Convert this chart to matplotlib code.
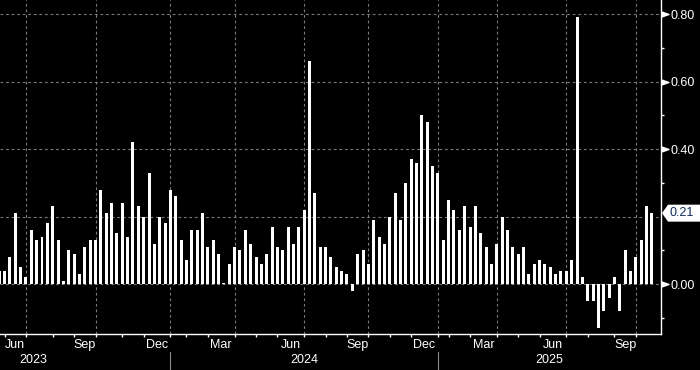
import numpy as np
import matplotlib
matplotlib.use("Agg")
import matplotlib.pyplot as plt
from matplotlib.patches import Polygon
from matplotlib.path import Path
from matplotlib.transforms import blended_transform_factory, IdentityTransform

plt.rcParams["font.family"] = ["Liberation Sans", "DejaVu Sans"]

# weekly values, oldest first
values = [
    0.04, 0.04, 0.08, 0.21, 0.05, 0.02, 0.16, 0.13, 0.14, 0.18,
    0.23, 0.13, 0.01, 0.10, 0.09, 0.03, 0.11, 0.13, 0.13, 0.28,
    0.21, 0.24, 0.15, 0.24, 0.14, 0.42, 0.23, 0.20, 0.33, 0.12,
    0.20, 0.18, 0.28, 0.26, 0.13, 0.07, 0.16, 0.16, 0.21, 0.11,
    0.13, 0.09, 0.003, 0.06, 0.11, 0.10, 0.16, 0.12, 0.08, 0.06,
    0.09, 0.17, 0.11, 0.10, 0.17, 0.12, 0.17, 0.22, 0.66, 0.27,
    0.11, 0.11, 0.08, 0.05, 0.04, 0.03, -0.02, 0.09, 0.10, 0.06,
    0.19, 0.14, 0.12, 0.20, 0.27, 0.19, 0.30, 0.37, 0.36, 0.50,
    0.48, 0.35, 0.33, 0.13, 0.25, 0.22, 0.16, 0.23, 0.17, 0.23,
    0.15, 0.11, 0.06, 0.12, 0.20, 0.16, 0.11, 0.09, 0.11, 0.03,
    0.06, 0.07, 0.06, 0.05, 0.03, 0.04, 0.04, 0.07, 0.79, 0.02,
    -0.05, -0.05, -0.13, -0.08, -0.04, 0.02, -0.08, 0.10, 0.04, 0.08,
    0.13, 0.23, 0.21,
]

# month-end bar index (May 2023 .. Aug 2025), quarter ends get a grid line
month_ends = [1, 5, 10, 14, 18, 23, 27, 32, 35, 39, 44, 48, 52, 57, 61, 65,
              69, 73, 77, 82, 84, 88, 93, 97, 101, 106, 110, 115, 119]
quarter_ends = [5, 18, 32, 44, 57, 69, 82, 93, 106, 119]
month_labels = ["Jun", "Sep", "Dec", "Mar", "Jun", "Sep", "Dec", "Mar", "Jun", "Sep"]
years = ["2023", "2024", "2025"]
year_pos = [6.3, 57, 102.8]
year_breaks = [32, 82]

y_ticks = [0.0, 0.2, 0.4, 0.6, 0.8]
y_minor = [-0.1, 0.1, 0.3, 0.5, 0.7]

fig = plt.figure(figsize=(7, 3.7), dpi=100, facecolor="black")
ax = fig.add_axes([0, 36 / 370, 660.5 / 700, 334 / 370])
ax.set_facecolor("black")

x = np.arange(len(values))
ax.bar(x, values, width=0.56, color="white", zorder=3)
ax.set_xlim(0.15, 123.6)
ax.set_ylim(-0.148, 0.8415)

for s in ["top", "left"]:
    ax.spines[s].set_visible(False)
for s in ["right", "bottom"]:
    ax.spines[s].set_color("white")
    ax.spines[s].set_linewidth(1.0)

grid_style = dict(color="#7a7a7a", linestyle=(0, (2.5, 2.5)), linewidth=0.8)
for q in quarter_ends:
    ax.axvline(q, zorder=1, **grid_style)
for t in y_ticks:
    ax.axhline(t, zorder=1, **grid_style)

last = values[-1]

# y axis on the right; the label under the last-value tag is hidden
ax.yaxis.tick_right()
ax.set_yticks(y_ticks)
ax.set_yticklabels(["" if abs(t - last) < 0.04 else f"{t:.2f}" for t in y_ticks])
ax.set_yticks(y_minor, minor=True)
ax.tick_params(axis="y", which="major", length=0, pad=7, labelsize=9, labelcolor="white")
ax.tick_params(axis="y", which="minor", length=2.5, width=1, color="white")

tri = Path([(-1, -0.7), (1, 0), (-1, 0.7), (-1, -0.7)],
           [Path.MOVETO, Path.LINETO, Path.LINETO, Path.CLOSEPOLY])
yt = blended_transform_factory(ax.transAxes, ax.transData)
arrow_ticks = [t for t in y_ticks if abs(t - last) >= 0.04]
ax.plot([1 + 4.2 / 660.5] * len(arrow_ticks), arrow_ticks, linestyle="none", marker=tri,
        markersize=5, color="white", transform=yt, clip_on=False)

# x axis: monthly ticks, quarter labels, years
ax.set_xticks(quarter_ends)
ax.set_xticklabels([])
ax.set_xticks(month_ends, minor=True)
ax.tick_params(axis="x", which="both", length=2.5, width=1, color="white", direction="out")

xt = blended_transform_factory(ax.transData, ax.transAxes)
for q, lab in zip(quarter_ends, month_labels):
    prev = month_ends[month_ends.index(q) - 1]
    ax.text((prev + q) / 2, -0.033, lab, transform=xt, ha="center", va="center",
            color="white", fontsize=9)
for p, lab in zip(year_pos, years):
    ax.text(p, -0.078, lab, transform=xt, ha="center", va="center",
            color="white", fontsize=9)
for b in year_breaks:
    ax.plot([b, b], [-0.053, -0.11], color="#8c8c8c", linewidth=0.8,
            transform=xt, clip_on=False)

# last value tag
tip_x = ax.transAxes.transform((1, 0))[0] + 1.5
tip_y = ax.transData.transform((0, last))[1]
tag = Polygon([(tip_x, tip_y), (tip_x + 6, tip_y + 8.5), (710, tip_y + 8.5),
               (710, tip_y - 8.5), (tip_x + 6, tip_y - 8.5)],
              closed=True, facecolor="white", edgecolor="none",
              transform=IdentityTransform(), zorder=5)
fig.add_artist(tag)
fig.text(tip_x + 8, tip_y, f"{last:.2f}", transform=IdentityTransform(),
         ha="left", va="center", color="#0f2a55", fontsize=9, zorder=6)

plt.savefig("out.png", dpi=100, facecolor="black")
